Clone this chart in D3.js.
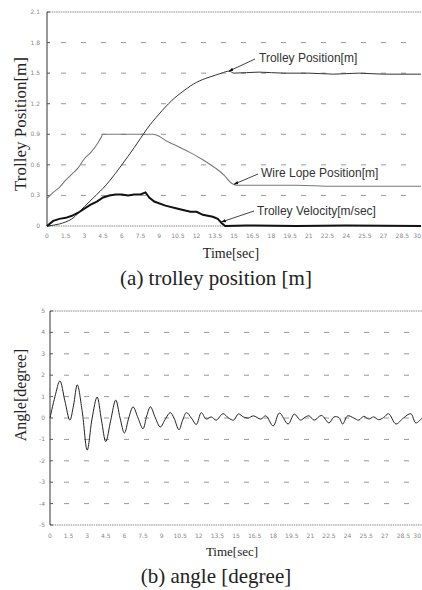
<!DOCTYPE html>
<html>
<head>
<meta charset="utf-8">
<script src="https://cdn.jsdelivr.net/npm/d3@7"></script>
<style>
  body { margin: 0; background: #fff; }
  svg { display: block; }
  .tick-label { font-family: "DejaVu Sans", sans-serif; font-size: 6px; fill: #888; }
  .title { font-family: "Liberation Serif", serif; fill: #222; }
  .note { font-family: "Liberation Sans", Arial, sans-serif; font-size: 12px; fill: #333; }
</style>
</head>
<body>
<div id="wrapper"></div>
<script>
// data
const timeTicks = d3.range(0, 30.01, 1.5)
const posTicks = [0, 0.3, 0.6, 0.9, 1.2, 1.5, 1.8, 2.1]
const angleTicks = [-5, -4, -3, -2, -1, 0, 1, 2, 3, 4, 5]

const posT = [0, 1, 1.5, 2, 3, 4, 4.5, 5, 6, 7, 7.5, 8, 9, 10, 11, 12, 13, 13.5, 14, 14.6, 15, 17, 19, 21, 23, 25, 27, 30]
const posV = [0, 0.02, 0.04, 0.07, 0.19, 0.31, 0.37, 0.44, 0.6, 0.77, 0.86, 0.95, 1.1, 1.23, 1.33, 1.41, 1.46, 1.48, 1.5, 1.52, 1.5, 1.51, 1.5, 1.5, 1.49, 1.5, 1.49, 1.49]

const wireT = [0, 0.5, 1, 1.5, 2, 2.5, 3, 3.5, 4, 4.3, 4.5, 5, 6, 7, 8, 8.5, 9, 9.5, 10.5, 11.5, 12.5, 13.5, 14.2, 14.8, 15.2, 17, 20, 23, 26, 30]
const wireV = [0.27, 0.33, 0.38, 0.45, 0.51, 0.57, 0.66, 0.72, 0.8, 0.86, 0.9, 0.9, 0.9, 0.9, 0.9, 0.9, 0.88, 0.84, 0.78, 0.72, 0.65, 0.57, 0.5, 0.42, 0.4, 0.4, 0.4, 0.39, 0.39, 0.39]

const velT = [0, 0.5, 1, 1.5, 2, 2.5, 3, 3.5, 4, 4.5, 5, 5.5, 6, 6.5, 7, 7.5, 7.9, 8.2, 8.6, 9.5, 10.5, 11.5, 12, 12.5, 13.3, 13.7, 14, 14.3, 16, 20, 24, 30]
const velV = [0, 0.05, 0.07, 0.08, 0.1, 0.13, 0.17, 0.21, 0.24, 0.28, 0.3, 0.31, 0.31, 0.3, 0.31, 0.31, 0.33, 0.28, 0.24, 0.2, 0.17, 0.14, 0.14, 0.11, 0.09, 0.07, 0.03, 0, 0.005, 0, 0.005, 0]

const angT = [0, 0.4, 0.8, 1.2, 1.6, 1.9, 2.2, 2.6, 3.0, 3.4, 3.8, 4.15, 4.5, 4.9, 5.3, 5.65, 6.0, 6.35, 6.7, 7.1, 7.5, 7.8, 8.1, 8.5, 8.9, 9.3, 9.7, 10.0, 10.4, 10.7, 11.0, 11.4, 11.8, 12.2, 12.6, 13.0, 13.4, 13.95, 14.4, 14.8, 15.2, 15.6, 16.0, 16.4, 17.0, 17.4, 18.0, 18.5, 19.2, 19.7, 20.2, 20.6, 20.9, 21.3, 21.9, 22.5, 22.9, 23.3, 23.6, 24.0, 24.5, 24.9, 25.3, 25.7, 26.1, 26.5, 26.9, 27.3, 27.9, 28.5, 29.1, 29.5, 30]
const angV = [0, 1.0, 1.73, 0.8, -0.1, 0.6, 1.55, 0.3, -1.5, 0, 0.98, -0.1, -1.1, -0.1, 0.84, 0, -0.7, 0, 0.52, 0, -0.5, 0.1, 0.52, 0, -0.42, -0.05, 0.25, 0, -0.55, -0.1, 0.25, 0, -0.3, 0.25, -0.05, 0.05, -0.1, 0.2, 0, -0.1, 0.19, 0.05, 0, 0.1, -0.05, 0.1, -0.37, 0.23, -0.28, 0.18, -0.1, 0.05, 0.1, -0.1, 0.12, -0.23, 0.05, 0.02, -0.28, 0.1, 0, -0.1, 0.08, -0.05, 0.05, -0.08, 0.02, 0.2, -0.28, 0, 0.2, -0.23, 0]

const zip = (a, b) => a.map((t, i) => [t, b[i]])

const svg = d3.select("#wrapper").append("svg")
    .attr("width", 422)
    .attr("height", 590)

const defs = svg.append("defs")
defs.append("marker")
    .attr("id", "arrow")
    .attr("viewBox", "0 0 10 10")
    .attr("refX", 9).attr("refY", 5)
    .attr("markerWidth", 6).attr("markerHeight", 6)
    .attr("orient", "auto")
  .append("path")
    .attr("d", "M0,1.5L10,5L0,8.5Z")
    .attr("fill", "#111")

function drawFrame(x, y, yTicks, yFmt, labelX, xLabelY) {
    const g = svg.append("g")
    const [x0, x1] = x.range()
    const [yb, yt] = y.range()

    // dashed grid
    g.selectAll(".grid")
        .data(yTicks.filter(d => d !== y.domain()[0] && d !== y.domain()[1]))
        .join("line")
        .attr("x1", x0 + 14).attr("x2", x1)
        .attr("y1", d => y(d)).attr("y2", d => y(d))
        .attr("stroke", "#999")
        .attr("stroke-width", 1)
        .attr("stroke-dasharray", "5,15")

    // top and bottom borders, dotted
    g.selectAll(".border")
        .data([yt, yb])
        .join("line")
        .attr("x1", x0).attr("x2", x1)
        .attr("y1", d => d).attr("y2", d => d)
        .attr("stroke", "#888")
        .attr("stroke-dasharray", "1.5,0.8")

    // left axis
    g.append("line")
        .attr("x1", x0).attr("x2", x0)
        .attr("y1", yt).attr("y2", yb)
        .attr("stroke", "#333")

    g.selectAll(".ytick")
        .data(yTicks)
        .join("line")
        .attr("x1", x0).attr("x2", x0 + 3)
        .attr("y1", d => y(d)).attr("y2", d => y(d))
        .attr("stroke", "#555")

    g.selectAll(".ylab")
        .data(yTicks)
        .join("text")
        .attr("class", "tick-label")
        .attr("x", labelX)
        .attr("y", d => y(d) + 2)
        .attr("text-anchor", "end")
        .text(yFmt)

    g.selectAll(".xlab")
        .data(timeTicks)
        .join("text")
        .attr("class", "tick-label")
        .attr("x", (d, i) => i === timeTicks.length - 1 ? 421 : x(d))
        .attr("y", xLabelY)
        .attr("text-anchor", (d, i) => i === timeTicks.length - 1 ? "end" : "middle")
        .text(d => d3.format("~g")(d))
    return g
}

// (a) trolley position
const xA = d3.scaleLinear().domain([0, 30]).range([47, 421])
const yA = d3.scaleLinear().domain([0, 2.1]).range([226, 12])
const gA = drawFrame(xA, yA, posTicks, d => d === 0 ? "0" : d.toFixed(1), 40, 238)

const lineA = d3.line().x(d => xA(d[0])).y(d => yA(d[1]))

gA.append("path")
    .datum(zip(wireT, wireV))
    .attr("d", lineA.curve(d3.curveMonotoneX))
    .attr("fill", "none")
    .attr("stroke", "#777")
    .attr("stroke-width", 1.1)

gA.append("path")
    .datum(zip(posT, posV))
    .attr("d", lineA.curve(d3.curveMonotoneX))
    .attr("fill", "none")
    .attr("stroke", "#333")
    .attr("stroke-width", 1)

gA.append("path")
    .datum(zip(velT, velV))
    .attr("d", lineA.curve(d3.curveLinear))
    .attr("fill", "none")
    .attr("stroke", "#111")
    .attr("stroke-width", 2)

const notes = [
    { text: "Trolley Position[m]", tx: 259, ty: 62, ax: 255, ay: 59, t: 14.6, v: 1.52 },
    { text: "Wire Lope Position[m]", tx: 261, ty: 177, ax: 258, ay: 174, t: 15.0, v: 0.41 },
    { text: "Trolley Velocity[m/sec]", tx: 257, ty: 215, ax: 254, ay: 211, t: 14.0, v: 0.04 },
]
gA.selectAll(".note-line")
    .data(notes)
    .join("line")
    .attr("x1", d => d.ax).attr("y1", d => d.ay)
    .attr("x2", d => xA(d.t)).attr("y2", d => yA(d.v))
    .attr("stroke", "#111")
    .attr("stroke-width", 0.8)
    .attr("marker-end", "url(#arrow)")
gA.selectAll(".note")
    .data(notes)
    .join("text")
    .attr("class", "note")
    .attr("x", d => d.tx).attr("y", d => d.ty)
    .text(d => d.text)

svg.append("text")
    .attr("class", "title")
    .attr("transform", "translate(26,124) rotate(-90)")
    .attr("text-anchor", "middle")
    .style("font-size", "17px")
    .text("Trolley Position[m]")
svg.append("text")
    .attr("class", "title")
    .attr("x", 231).attr("y", 258)
    .attr("text-anchor", "middle")
    .style("font-size", "14px")
    .text("Time[sec]")
svg.append("text")
    .attr("class", "title")
    .attr("x", 216).attr("y", 285)
    .attr("text-anchor", "middle")
    .style("font-size", "21px")
    .text("(a) trolley position [m]")

// (b) angle
const xB = d3.scaleLinear().domain([0, 30]).range([50, 422])
const yB = d3.scaleLinear().domain([-5, 5]).range([525, 311])
const gB = drawFrame(xB, yB, angleTicks, d => String(d), 45, 538)

gB.append("path")
    .datum(zip(angT, angV))
    .attr("d", d3.line().x(d => xB(d[0])).y(d => yB(d[1])).curve(d3.curveCatmullRom))
    .attr("fill", "none")
    .attr("stroke", "#222")
    .attr("stroke-width", 1)

svg.append("text")
    .attr("class", "title")
    .attr("transform", "translate(26,395) rotate(-90)")
    .attr("text-anchor", "middle")
    .style("font-size", "16px")
    .text("Angle[degree]")
svg.append("text")
    .attr("class", "title")
    .attr("x", 232).attr("y", 556)
    .attr("text-anchor", "middle")
    .style("font-size", "13px")
    .text("Time[sec]")
svg.append("text")
    .attr("class", "title")
    .attr("x", 216).attr("y", 583)
    .attr("text-anchor", "middle")
    .style("font-size", "21px")
    .text("(b) angle [degree]")
</script>
</body>
</html>
